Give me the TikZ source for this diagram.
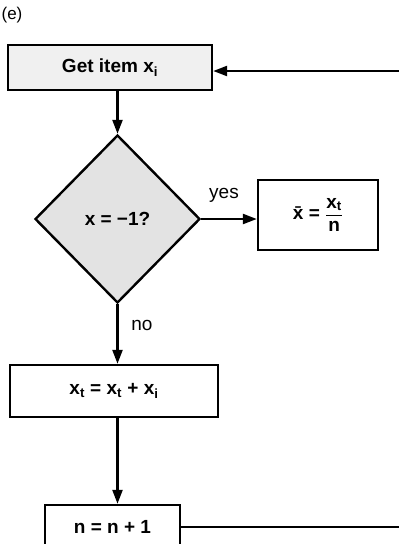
\documentclass[tikz,border=0pt]{standalone}
\usepackage{fontspec}
\usepackage{amsmath}
\setmainfont{Liberation Sans}
\usetikzlibrary{shapes.geometric,arrows.meta}
\tikzset{
  boxnode/.style={draw, line width=2.4pt, rectangle, inner sep=0pt, font=\fontsize{19}{22}\selectfont\bfseries},
  dianode/.style={draw, line width=2.4pt, diamond, inner sep=0pt, fill=gray!22, font=\fontsize{19}{22}\selectfont\bfseries},
  flow/.style={line width=2.4pt, -{Triangle[length=14pt,width=10pt]}},
  plain/.style={line width=2.4pt},
  lbl/.style={font=\fontsize{19}{22}\selectfont, inner sep=0pt},
  tag/.style={font=\fontsize{17}{19}\selectfont, inner sep=0pt}
}
\begin{document}
\begin{tikzpicture}[x=1pt,y=-1pt]
\useasboundingbox (0,0) rectangle (399,544);
\clip (0,0) rectangle (399,544);
\node[tag] (e) at (12,15) {(e)};
\node[boxnode, fill=gray!12, minimum width=204pt, minimum height=45pt] (get) at (110,67.5) {Get item x\textsubscript{i}};
\node[dianode, minimum width=165pt, minimum height=168pt] (dia) at (117.5,219) {x = −1?};
\node[boxnode, minimum width=120pt, minimum height=70pt] (res) at (318,215) {\={x} = $\dfrac{\text{x\textsubscript{t}}}{\text{n}}$};
\node[boxnode, minimum width=208pt, minimum height=52pt] (sum) at (114,391) {x\textsubscript{t} = x\textsubscript{t} + x\textsubscript{i}};
\node[boxnode, minimum width=135pt, minimum height=44pt] (inc) at (112.5,527) {n = n + 1};
\node[lbl] (yes) at (224,195) {yes};
\node[lbl] (no) at (142,325) {no};
\coordinate (rb) at (401,527);
\coordinate (rt) at (401,71);
\draw[flow] (get.south -| dia.north) -- (dia.north);
\draw[flow] (dia.east) -- (dia.east -| res.west);
\draw[flow] (dia.south) -- (dia.south |- sum.north);
\draw[flow] (sum.south -| dia.south) -- (inc.north -| dia.south);
\draw[plain] (inc.east |- rb) -- (rb) -- (rt);
\draw[flow] (rt) -- (rt -| get.east);
\end{tikzpicture}
\end{document}
